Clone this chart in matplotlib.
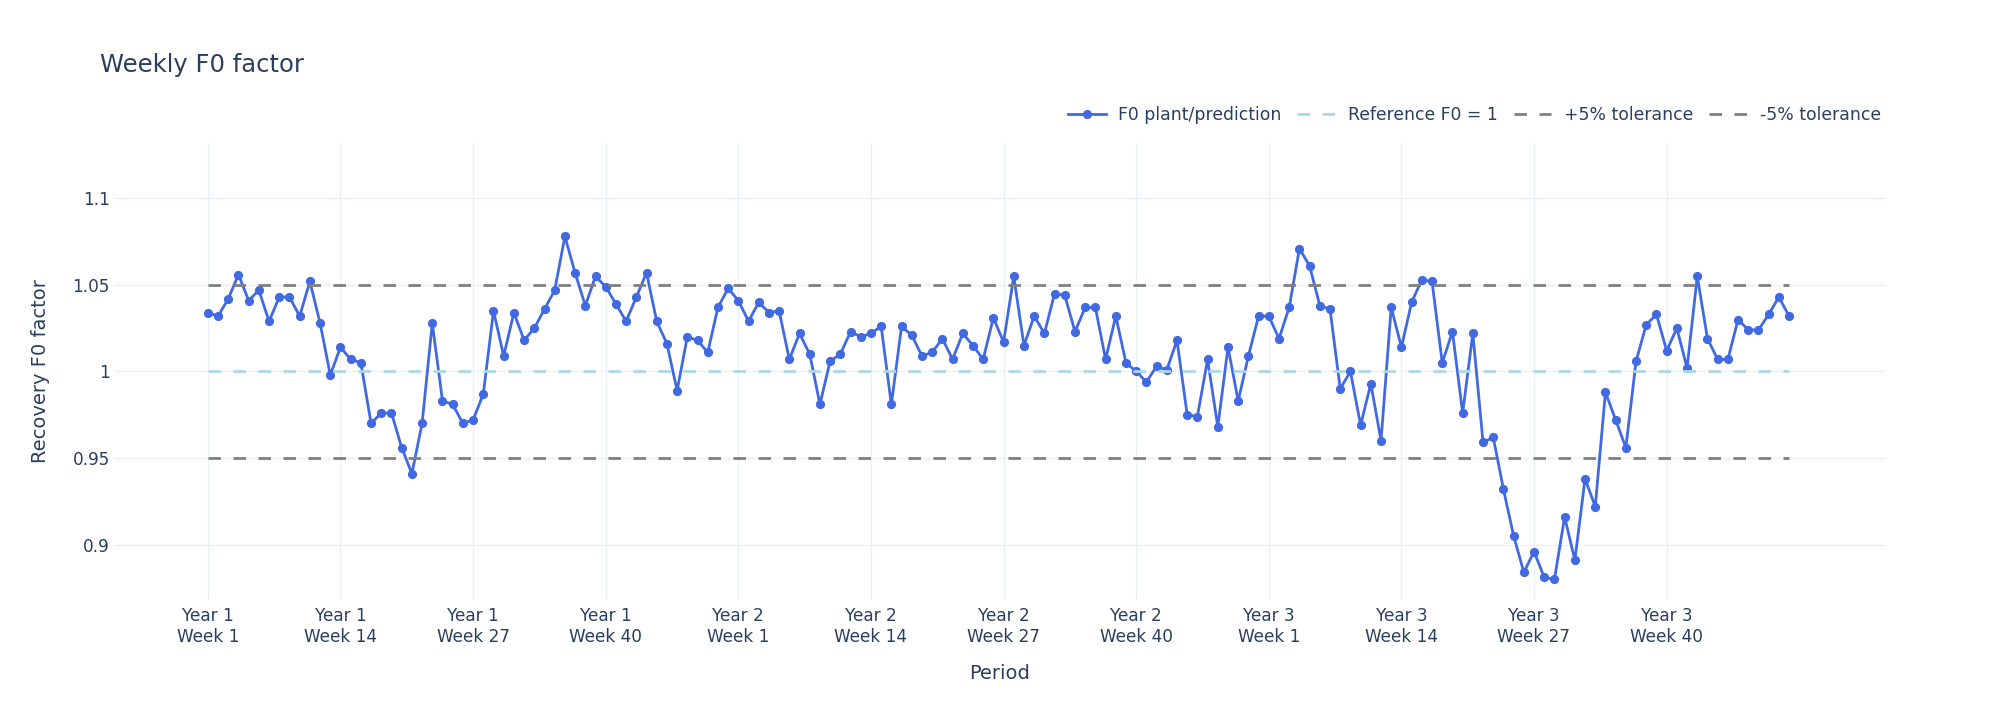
import matplotlib.pyplot as plt
import numpy as np

# weekly F0 factor, Year 1 Week 1 .. Year 3 Week 52
f0 = [
    1.034, 1.032, 1.042, 1.056, 1.041, 1.047, 1.029, 1.043, 1.043, 1.032,
    1.052, 1.028, 0.998, 1.014, 1.007, 1.005, 0.970, 0.976, 0.976, 0.956,
    0.941, 0.970, 1.028, 0.983, 0.981, 0.970, 0.972, 0.987, 1.035, 1.009,
    1.034, 1.018, 1.025, 1.036, 1.047, 1.078, 1.057, 1.038, 1.055, 1.049,
    1.039, 1.029, 1.043, 1.057, 1.029, 1.016, 0.989, 1.020, 1.018, 1.011,
    1.037, 1.048, 1.041, 1.029, 1.040, 1.034, 1.035, 1.007, 1.022, 1.010,
    0.981, 1.006, 1.010, 1.023, 1.020, 1.022, 1.026, 0.981, 1.026, 1.021,
    1.009, 1.011, 1.019, 1.007, 1.022, 1.015, 1.007, 1.031, 1.017, 1.055,
    1.015, 1.032, 1.022, 1.045, 1.044, 1.023, 1.037, 1.037, 1.007, 1.032,
    1.005, 1.000, 0.994, 1.003, 1.001, 1.018, 0.975, 0.974, 1.007, 0.968,
    1.014, 0.983, 1.009, 1.032, 1.032, 1.019, 1.037, 1.071, 1.061, 1.038,
    1.036, 0.990, 1.000, 0.969, 0.993, 0.960, 1.037, 1.014, 1.040, 1.053,
    1.052, 1.005, 1.023, 0.976, 1.022, 0.959, 0.962, 0.932, 0.905, 0.884,
    0.896, 0.881, 0.880, 0.916, 0.891, 0.938, 0.922, 0.988, 0.972, 0.956,
    1.006, 1.027, 1.033, 1.012, 1.025, 1.002, 1.055, 1.019, 1.007, 1.007,
    1.030, 1.024, 1.024, 1.033, 1.043, 1.032,
]
periods = [f"Year {y}\nWeek {w}" for y in (1, 2, 3) for w in range(1, 53)]
tick_every = 13
reference = 1.0
upper = 1.05
lower = 0.95
y_ticks = [0.9, 0.95, 1.0, 1.05, 1.1]
y_tick_labels = ["0.9", "0.95", "1", "1.05", "1.1"]

text_color = "#2a3f5f"
grid_color = "#EBF0F8"
plt.rcParams["font.family"] = ["DejaVu Sans"]

x = np.arange(len(f0))

fig = plt.figure(figsize=(20, 7.14), dpi=100)
ax = fig.add_axes([114 / 2000, 114 / 714, 1772 / 2000, 457 / 714])

ax.plot(x, f0, color="#4169E1", lw=2.0, marker="o", markersize=5.6,
        label="F0 plant/prediction", zorder=3)
ax.plot(x, [reference] * len(x), color="#ADD8E6", lw=2.0, dashes=(4.5, 4.5),
        label="Reference F0 = 1", zorder=4)
ax.plot(x, [upper] * len(x), color="#808080", lw=2.0, dashes=(4.5, 4.5),
        label="+5% tolerance", zorder=4)
ax.plot(x, [lower] * len(x), color="#808080", lw=2.0, dashes=(4.5, 4.5),
        label="-5% tolerance", zorder=4)

ax.set_xlim(-9.2, 164.5)
ax.set_ylim(0.868, 1.132)
ticks = x[::tick_every]
ax.set_xticks(ticks)
ax.set_xticklabels([periods[i] for i in ticks])
ax.set_yticks(y_ticks)
ax.set_yticklabels(y_tick_labels)
ax.tick_params(axis="both", length=0, colors=text_color, labelsize=12.2)
ax.tick_params(axis="x", pad=5)
ax.tick_params(axis="y", pad=3)
ax.grid(True, color=grid_color, lw=1.0)
ax.set_axisbelow(True)
for s in ax.spines.values():
    s.set_visible(False)

ax.set_xlabel("Period", fontsize=14, color=text_color, labelpad=13)
ax.set_ylabel("Recovery F0 factor", fontsize=14, color=text_color, labelpad=16)

fig.text(0.05, 1 - 72 / 714, "Weekly F0 factor", fontsize=17.5,
         color=text_color, va="baseline", ha="left")

leg = ax.legend(loc="center right", bbox_to_anchor=(1.001, 1.062), ncol=4,
                frameon=False, fontsize=12.4, handlelength=2.2,
                handletextpad=0.75, columnspacing=0.9, borderaxespad=0)
for t in leg.get_texts():
    t.set_color(text_color)

fig.savefig("out.png", dpi=100)
